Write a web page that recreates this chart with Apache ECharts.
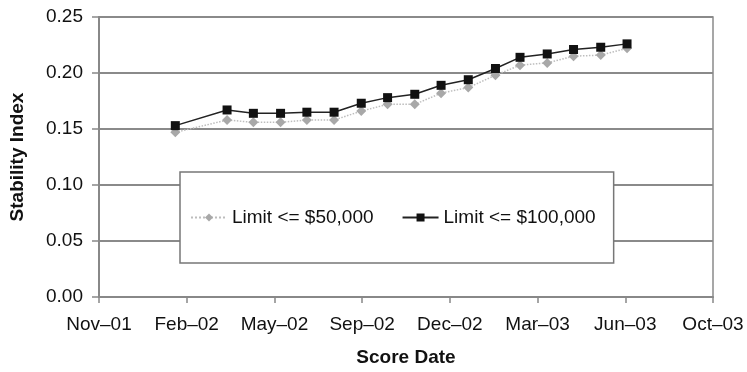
<!DOCTYPE html>
<html>
<head>
<meta charset="utf-8">
<script src="https://cdn.jsdelivr.net/npm/echarts@6/dist/echarts.min.js"></script>
<style>
html,body{margin:0;padding:0;background:#fff;}
#chart{width:747px;height:372px;}
</style>
</head>
<body>
<div id="chart"></div>
<script>
// ---- data ----
const axisStart = '2001-11-05';
const tickStepDays = 100;
const tickLabels = ['Nov–01','Feb–02','May–02','Sep–02','Dec–02','Mar–03','Jun–03','Oct–03'];
const scoreDates = ['2002-01-31','2002-03-31','2002-04-30','2002-05-31','2002-06-30','2002-07-31','2002-08-31','2002-09-30','2002-10-31','2002-11-30','2002-12-31','2003-01-31','2003-02-28','2003-03-31','2003-04-30','2003-05-31','2003-06-30'];
const limit50k  = [0.147,0.158,0.156,0.156,0.158,0.158,0.166,0.172,0.172,0.182,0.187,0.198,0.207,0.209,0.215,0.216,0.222];
const limit100k = [0.153,0.167,0.164,0.164,0.165,0.165,0.173,0.178,0.181,0.189,0.194,0.204,0.214,0.217,0.221,0.223,0.226];
const seriesNames = ['Limit <= $50,000','Limit <= $100,000'];
const yTicks = [0, 0.05, 0.10, 0.15, 0.20, 0.25];

function dayIndex(s){
  const p = s.split('-').map(Number);
  const a = axisStart.split('-').map(Number);
  return (Date.UTC(p[0],p[1]-1,p[2]) - Date.UTC(a[0],a[1]-1,a[2]))/86400000;
}
const xs = scoreDates.map(dayIndex);
const pts50 = xs.map((x,i)=>[x, limit50k[i]]);
const pts100 = xs.map((x,i)=>[x, limit100k[i]]);

const FONT = 'Liberation Sans, Arial, sans-serif';
const chart = echarts.init(document.getElementById('chart'), null, {renderer:'canvas'});
chart.setOption({
  animation:false,
  backgroundColor:'#fff',
  grid:{left:98, right:34, top:17, bottom:74, show:true, borderColor:'#8a8a8a', borderWidth:1.5},
  legend:{
    left:180, top:172,
    backgroundColor:'#fff', borderColor:'#777', borderWidth:1.5,
    padding:[36, 18, 36, 10],
    itemWidth:36, itemHeight:10, itemGap:28,
    textStyle:{fontFamily:FONT, fontSize:19, color:'#111'},
    data: seriesNames
  },
  xAxis:{
    type:'value', min:0, max:tickStepDays*(tickLabels.length-1), interval:tickStepDays,
    name:'Score Date', nameLocation:'middle', nameGap:51,
    nameTextStyle:{fontFamily:FONT, fontSize:19, fontWeight:'bold', color:'#111'},
    axisLine:{show:true, lineStyle:{color:'#888', width:2}},
    axisTick:{show:true, length:6, lineStyle:{color:'#888', width:1.5}},
    splitLine:{show:false},
    axisLabel:{margin:18, fontFamily:FONT, fontSize:19, color:'#111',
      formatter:function(v){ return tickLabels[Math.round(v/tickStepDays)] || ''; }}
  },
  yAxis:{
    type:'value', min:yTicks[0], max:yTicks[yTicks.length-1], interval:0.05,
    name:'Stability Index', nameLocation:'middle', nameGap:72, nameRotate:90,
    nameTextStyle:{fontFamily:FONT, fontSize:19, fontWeight:'bold', color:'#111'},
    axisLine:{show:true, lineStyle:{color:'#888', width:2}},
    axisTick:{show:true, length:7, lineStyle:{color:'#888', width:1.5}},
    splitLine:{show:true, lineStyle:{color:'#8a8a8a', width:2}},
    axisLabel:{margin:16, fontFamily:FONT, fontSize:19, color:'#111',
      formatter:function(v){ return v.toFixed(2); }}
  },
  series:[
    {
      name:seriesNames[0], type:'line', data:pts50,
      symbol:'diamond', symbolSize:10,
      itemStyle:{color:'#a8a8a8'},
      lineStyle:{color:'#bdbdbd', width:1.5, type:'dotted'},
      z:2
    },
    {
      name:seriesNames[1], type:'line', data:pts100,
      symbol:'rect', symbolSize:9,
      itemStyle:{color:'#111'},
      lineStyle:{color:'#222', width:1.5},
      z:3
    }
  ]
});
</script>
</body>
</html>
